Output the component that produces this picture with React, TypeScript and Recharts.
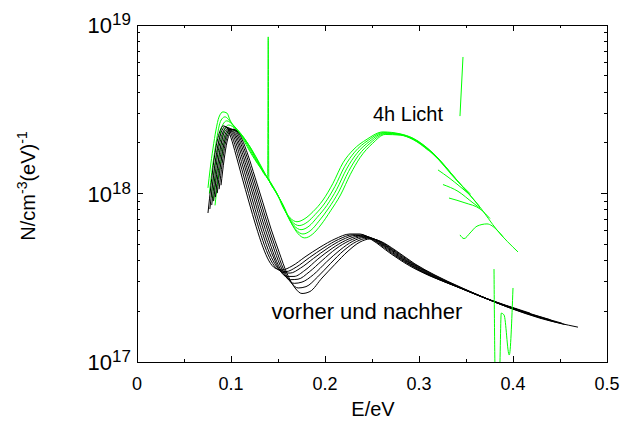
import React from 'react';
import { LineChart, Line, XAxis, YAxis, ReferenceArea } from 'recharts';

type Pt = [number, number];

// axis ticks
const xTicks = [0, 0.05, 0.1, 0.15, 0.2, 0.25, 0.3, 0.35, 0.4, 0.45, 0.5];
const xTickLabels = ['0', '', '0.1', '', '0.2', '', '0.3', '', '0.4', '', '0.5'];
const yTicks = [
  1e17, 2e17, 3e17, 4e17, 5e17, 6e17, 7e17, 8e17, 9e17,
  1e18, 2e18, 3e18, 4e18, 5e18, 6e18, 7e18, 8e18, 9e18, 1e19
];
const yTickExp = ['17', '', '', '', '', '', '', '', '', '18', '', '', '', '', '', '', '', '', '19'];

// "vorher und nachher" (black family, left to right)
const b0: Pt[] = [[0.0755,7.66e17],[0.0787,1.12e18],[0.0819,1.58e18],[0.0851,2.02e18],[0.0883,2.35e18],[0.0915,2.52e18],[0.0957,2.45e18],[0.1,2.14e18],[0.1053,1.69e18],[0.1117,1.25e18],[0.1191,8.9e17],[0.1266,6.4e17],[0.134,4.8e17],[0.1404,3.98e17],[0.1468,3.61e17],[0.1543,3.52e17],[0.1649,3.71e17],[0.1787,4.2e17],[0.1947,4.8e17],[0.2106,5.37e17],[0.2266,5.75e17],[0.2372,5.75e17],[0.25,5.3e17],[0.2691,4.43e17],[0.2904,3.71e17],[0.3117,3.24e17],[0.3383,2.83e17],[0.3649,2.46e17],[0.3915,2.18e17],[0.4181,1.95e17]];
const b1: Pt[] = [[0.0775,8.09e17],[0.0807,1.176e18],[0.0839,1.636e18],[0.0871,2.056e18],[0.0903,2.358e18],[0.0936,2.495e18],[0.098,2.397e18],[0.1026,2.069e18],[0.1082,1.619e18],[0.1149,1.189e18],[0.1225,8.44e17],[0.1301,6.09e17],[0.1377,4.59e17],[0.1444,3.84e17],[0.1509,3.51e17],[0.1585,3.44e17],[0.1695,3.66e17],[0.1833,4.16e17],[0.199,4.77e17],[0.2144,5.34e17],[0.2296,5.69e17],[0.2402,5.67e17],[0.2535,5.2e17],[0.2729,4.34e17],[0.2942,3.65e17],[0.3163,3.17e17],[0.3429,2.76e17],[0.3695,2.4e17],[0.3968,2.12e17],[0.425,1.86e17]];
const b2: Pt[] = [[0.0795,8.54e17],[0.0827,1.235e18],[0.0858,1.695e18],[0.089,2.094e18],[0.0922,2.367e18],[0.0958,2.47e18],[0.1003,2.344e18],[0.1052,2.0e18],[0.1111,1.55e18],[0.1181,1.131e18],[0.1258,8.01e17],[0.1336,5.79e17],[0.1413,4.39e17],[0.1483,3.7e17],[0.155,3.4e17],[0.1628,3.37e17],[0.174,3.61e17],[0.1878,4.12e17],[0.2032,4.75e17],[0.2182,5.31e17],[0.2327,5.64e17],[0.2433,5.59e17],[0.257,5.1e17],[0.2767,4.25e17],[0.298,3.58e17],[0.3208,3.1e17],[0.3474,2.7e17],[0.374,2.35e17],[0.4021,2.07e17],[0.44,1.78e17]];
const b3: Pt[] = [[0.0815,9.02e17],[0.0847,1.298e18],[0.0878,1.755e18],[0.091,2.132e18],[0.0942,2.376e18],[0.0979,2.446e18],[0.1026,2.293e18],[0.1078,1.934e18],[0.114,1.485e18],[0.1213,1.075e18],[0.1292,7.6e17],[0.1371,5.5e17],[0.145,4.2e17],[0.1523,3.48e17],[0.1591,3.22e17],[0.167,3.22e17],[0.1786,3.5e17],[0.1924,4.08e17],[0.2075,4.72e17],[0.222,5.27e17],[0.2357,5.58e17],[0.2463,5.52e17],[0.2605,5.0e17],[0.2805,4.16e17],[0.3018,3.52e17],[0.3254,3.04e17],[0.352,2.64e17],[0.3786,2.3e17],[0.4074,2.02e17],[0.43,1.82e17]];
const b4: Pt[] = [[0.0834,9.52e17],[0.0866,1.363e18],[0.0898,1.819e18],[0.093,2.17e18],[0.0962,2.384e18],[0.1,2.421e18],[0.1048,2.243e18],[0.1103,1.87e18],[0.1168,1.422e18],[0.1244,1.023e18],[0.1325,7.21e17],[0.1406,5.23e17],[0.1486,3.95e17],[0.1562,3.3e17],[0.1632,3.08e17],[0.1713,3.1e17],[0.1831,3.42e17],[0.1969,4.0e17],[0.2117,4.7e17],[0.2258,5.24e17],[0.2388,5.53e17],[0.2494,5.44e17],[0.264,4.9e17],[0.2843,4.07e17],[0.3056,3.46e17],[0.3299,2.97e17],[0.3565,2.58e17],[0.3831,2.24e17],[0.4128,1.97e17],[0.452,1.7e17]];
const b5: Pt[] = [[0.0854,1.005e18],[0.0886,1.432e18],[0.0918,1.882e18],[0.095,2.209e18],[0.0982,2.393e18],[0.1021,2.398e18],[0.1071,2.195e18],[0.1129,1.808e18],[0.1197,1.362e18],[0.1276,9.73e17],[0.1359,6.84e17],[0.1441,4.98e17],[0.1523,3.75e17],[0.1602,3.12e17],[0.1673,2.93e17],[0.1755,2.98e17],[0.1877,3.3e17],[0.2015,3.92e17],[0.216,4.62e17],[0.2296,5.21e17],[0.2418,5.48e17],[0.2524,5.37e17],[0.2675,4.8e17],[0.2881,3.98e17],[0.3094,3.4e17],[0.3345,2.91e17],[0.3611,2.52e17],[0.3877,2.19e17],[0.4181,1.92e17],[0.445,1.73e17]];
const b6: Pt[] = [[0.0874,1.061e18],[0.0906,1.504e18],[0.0937,1.95e18],[0.0969,2.249e18],[0.1001,2.402e18],[0.1043,2.374e18],[0.1094,2.147e18],[0.1155,1.748e18],[0.1226,1.305e18],[0.1308,9.25e17],[0.1392,6.49e17],[0.1476,4.73e17],[0.1559,3.55e17],[0.1641,2.95e17],[0.1714,2.75e17],[0.1798,2.8e17],[0.1922,3.2e17],[0.206,3.85e17],[0.2202,4.6e17],[0.2334,5.18e17],[0.2449,5.42e17],[0.2555,5.29e17],[0.271,4.71e17],[0.2919,3.9e17],[0.3132,3.34e17],[0.339,2.85e17],[0.3656,2.46e17],[0.3922,2.14e17],[0.4234,1.87e17],[0.455,1.67e17]];
const b7: Pt[] = [[0.0894,1.12e18],[0.0926,1.58e18],[0.0957,2.02e18],[0.0989,2.29e18],[0.1021,2.41e18],[0.1064,2.35e18],[0.1117,2.1e18],[0.1181,1.69e18],[0.1255,1.25e18],[0.134,8.8e17],[0.1426,6.16e17],[0.1511,4.5e17],[0.1596,3.35e17],[0.1681,2.75e17],[0.1755,2.55e17],[0.184,2.62e17],[0.1968,3.15e17],[0.2106,3.8e17],[0.2245,4.55e17],[0.2372,5.15e17],[0.2479,5.37e17],[0.2585,5.22e17],[0.2745,4.62e17],[0.2957,3.82e17],[0.317,3.28e17],[0.3436,2.79e17],[0.3702,2.4e17],[0.3968,2.09e17],[0.4287,1.82e17],[0.4691,1.61e17]];
const blackCurves = [b0, b1, b2, b3, b4, b5, b6, b7];

// "4h Licht" (green family)
const g0: Pt[] = [[0.0755,1.08e18],[0.0777,1.38e18],[0.0809,1.86e18],[0.084,2.38e18],[0.0872,2.84e18],[0.0915,3.05e18],[0.0957,3.0e18],[0.0989,2.73e18],[0.1117,2.16e18],[0.1202,1.77e18],[0.1309,1.43e18],[0.139,1.25e18],[0.1396,8.5e18],[0.1402,1.23e18],[0.1489,1.0e18],[0.1553,8.3e17],[0.1628,7.17e17],[0.1702,6.8e17],[0.1787,7.1e17],[0.1872,7.8e17],[0.1979,9.15e17],[0.2085,1.15e18],[0.2191,1.52e18],[0.2298,1.81e18],[0.2447,2.1e18],[0.2617,2.32e18],[0.2798,2.26e18],[0.2936,2.13e18],[0.3149,1.74e18],[0.3404,1.2e18],[0.3649,8.3e17],[0.383,6.07e17],[0.4053,4.5e17]];
const g1: Pt[] = [[0.077,1.0e18],[0.0795,1.33e18],[0.0825,1.75e18],[0.0855,2.22e18],[0.088,2.6e18],[0.091,2.8e18],[0.0935,2.85e18],[0.101,2.6e18],[0.114,2.1e18],[0.1225,1.72e18],[0.133,1.38e18],[0.1415,1.18e18],[0.151,9.5e17],[0.1575,7.9e17],[0.165,6.8e17],[0.1725,6.45e17],[0.181,6.75e17],[0.1895,7.5e17],[0.2,8.8e17],[0.2105,1.1e18],[0.221,1.45e18],[0.2315,1.76e18],[0.246,2.07e18],[0.2625,2.3e18],[0.28,2.25e18],[0.2936,2.12e18],[0.3149,1.73e18],[0.3404,1.2e18],[0.3649,8.3e17]];
const g2: Pt[] = [[0.079,9.5e17],[0.0815,1.28e18],[0.0845,1.65e18],[0.0875,2.1e18],[0.09,2.45e18],[0.093,2.65e18],[0.0955,2.7e18],[0.1035,2.5e18],[0.116,2.05e18],[0.1245,1.68e18],[0.135,1.33e18],[0.1435,1.12e18],[0.153,9.0e17],[0.1595,7.5e17],[0.167,6.45e17],[0.1745,6.1e17],[0.183,6.4e17],[0.1915,7.2e17],[0.202,8.5e17],[0.2125,1.06e18],[0.223,1.4e18],[0.2335,1.72e18],[0.2475,2.04e18],[0.263,2.28e18],[0.28,2.24e18],[0.2936,2.11e18],[0.3149,1.72e18],[0.3404,1.19e18],[0.355,9.9e17]];
const g3: Pt[] = [[0.081,9.0e17],[0.0835,1.2e18],[0.0865,1.55e18],[0.0895,1.98e18],[0.092,2.3e18],[0.095,2.5e18],[0.0975,2.55e18],[0.1055,2.4e18],[0.118,1.98e18],[0.1265,1.63e18],[0.137,1.28e18],[0.1455,1.07e18],[0.155,8.6e17],[0.1615,7.1e17],[0.169,6.1e17],[0.1765,5.75e17],[0.185,6.05e17],[0.1935,6.85e17],[0.204,8.2e17],[0.2145,1.02e18],[0.225,1.35e18],[0.2355,1.68e18],[0.249,2.01e18],[0.2635,2.26e18],[0.28,2.23e18],[0.2936,2.1e18],[0.3149,1.71e18],[0.33,1.4e18]];
const g4: Pt[] = [[0.083,8.5e17],[0.0855,1.13e18],[0.0885,1.45e18],[0.0915,1.85e18],[0.094,2.15e18],[0.097,2.35e18],[0.0995,2.4e18],[0.1075,2.3e18],[0.12,1.9e18],[0.1285,1.58e18],[0.139,1.23e18],[0.1475,1.02e18],[0.157,8.2e17],[0.1635,6.8e17],[0.171,5.8e17],[0.1785,5.45e17],[0.187,5.75e17],[0.1955,6.5e17],[0.206,7.9e17],[0.2165,9.8e17],[0.227,1.3e18],[0.2375,1.64e18],[0.2505,1.98e18],[0.264,2.24e18],[0.28,2.22e18],[0.2936,2.09e18],[0.31,1.8e18]];
const gTailA: Pt[] = [[0.3202,1.38e18],[0.3319,1.24e18],[0.3436,1.1e18],[0.3543,9.8e17]];
const gTailB: Pt[] = [[0.3255,1.13e18],[0.3415,1.03e18],[0.3574,8.8e17],[0.3649,8.2e17]];
const gTailC: Pt[] = [[0.3319,9.4e17],[0.3489,8.8e17],[0.3649,8.1e17],[0.3755,7.1e17]];
const gTailD: Pt[] = [[0.3436,5.68e17],[0.3479,5.4e17],[0.3543,5.83e17],[0.3617,6.4e17],[0.3723,6.6e17],[0.383,6.07e17],[0.3894,5.53e17]];
const gSpike: Pt[] = [[0.3436,2.88e18],[0.3468,6.46e18]];
const gNoise: Pt[] = [[0.3798,3.56e17],[0.3812,8e16],[0.3855,8e16],[0.3875,1.95e17],[0.3905,1.9e17],[0.396,1.1e17],[0.4,2.75e17]];
const greenCurves = [g0, g1, g2, g3, g4, gTailA, gTailB, gTailC, gTailD, gSpike];

const PLOT = { left: 137, right: 607, top: 25, bottom: 362 };
const FONT = '"Liberation Sans", Arial, Helvetica, sans-serif';
const GREEN = '#00ff00';

const toRows = (pts: Pt[]) => pts.map(([x, y]) => ({ x, y }));

const XTick = (props: any) => {
  const { x, payload } = props;
  const label = xTickLabels[xTicks.indexOf(payload.value)];
  const len = label ? 6 : 3;
  return (
    <g>
      <line x1={x} x2={x} y1={PLOT.bottom} y2={PLOT.bottom - len} stroke="#000" shapeRendering="crispEdges" />
      <line x1={x} x2={x} y1={PLOT.top} y2={PLOT.top + len} stroke="#000" shapeRendering="crispEdges" />
      {label && (
        <text x={x} y={390} textAnchor="middle" fontSize={18} fontFamily={FONT} fill="#000">
          {label}
        </text>
      )}
    </g>
  );
};

const YTick = (props: any) => {
  const { y, payload } = props;
  const exp = yTickExp[yTicks.indexOf(payload.value)];
  const len = exp ? 6 : 3;
  return (
    <g>
      <line x1={PLOT.left} x2={PLOT.left + len} y1={y} y2={y} stroke="#000" shapeRendering="crispEdges" />
      <line x1={PLOT.right} x2={PLOT.right - len} y1={y} y2={y} stroke="#000" shapeRendering="crispEdges" />
      {exp && (
        <text x={PLOT.left - 6} y={y + 8} textAnchor="end" fontSize={22} fontFamily={FONT} fill="#000">
          <tspan>10</tspan>
          <tspan dy={-8} fontSize={17}>{exp}</tspan>
        </text>
      )}
    </g>
  );
};

const curve = (pts: Pt[], key: string, color: string) => (
  <Line
    key={key}
    name={key}
    data={toRows(pts)}
    dataKey="y"
    type="monotone"
    stroke={color}
    strokeWidth={1}
    dot={false}
    activeDot={false}
    isAnimationActive={false}
  />
);

const App: React.FC = () => {
  return (
    <div style={{ position: 'absolute', left: 0, top: 0, width: 625, height: 421, background: '#fff' }}>
      <LineChart width={625} height={421} margin={{ top: 25, right: 18, bottom: 0, left: 0 }}>
        <XAxis
          dataKey="x"
          type="number"
          domain={[0, 0.5]}
          ticks={xTicks}
          interval={0}
          allowDataOverflow
          height={59}
          axisLine={false}
          tickLine={false}
          tick={XTick}
        />
        <YAxis
          type="number"
          scale="log"
          domain={[1e17, 1e19]}
          ticks={yTicks}
          interval={0}
          allowDataOverflow
          width={137}
          axisLine={false}
          tickLine={false}
          tick={YTick}
        />
        <ReferenceArea x1={0} x2={0.5} y1={1e17} y2={1e19} fill="none" stroke="#000" strokeWidth={1} shapeRendering="crispEdges" />
        {greenCurves.map((c, i) => curve(c, 'g' + i, GREEN))}
        {blackCurves.map((c, i) => curve(c, 'b' + i, '#000'))}
        {curve(gNoise, 'gNoise', GREEN)}
      </LineChart>
      <svg width={625} height={421} style={{ position: 'absolute', left: 0, top: 0, pointerEvents: 'none' }}>
        <g fontFamily={FONT} fill="#000">
          <text x={373} y={121} fontSize={20}>4h Licht</text>
          <text x={367} y={319} fontSize={22} textAnchor="middle">vorher und nachher</text>
          <text x={373} y={416} fontSize={20} textAnchor="middle">E/eV</text>
          <text transform="rotate(-90)" x={-186} y={35} fontSize={20} textAnchor="middle">
            <tspan>N/cm</tspan>
            <tspan dy={-8} fontSize={14}>-3</tspan>
            <tspan dy={8}>(eV)</tspan>
            <tspan dy={-8} fontSize={14}>-1</tspan>
          </text>
        </g>
      </svg>
    </div>
  );
};

export default App;
